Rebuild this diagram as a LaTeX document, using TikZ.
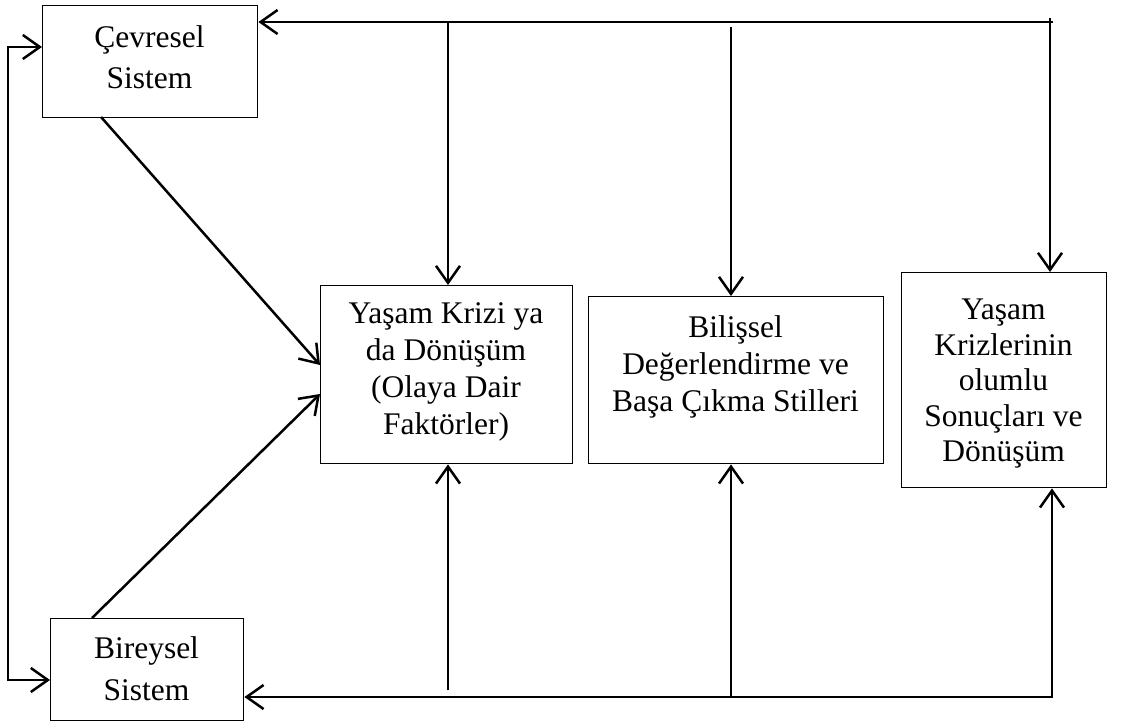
\documentclass[tikz,border=0pt]{standalone}
\usepackage{fontspec}
\setmainfont{Liberation Serif}
\usetikzlibrary{arrows.meta}
\begin{document}
\begin{tikzpicture}[x=1pt,y=-1pt,
  >={Straight Barb[length=17pt,width=24pt]},
  box/.style={draw,line width=1.4pt,inner sep=0pt,anchor=north west},
  txt/.style={inner sep=0pt,anchor=north,align=center},
  fs/.style={font=\fontsize{31.5}{#1}\selectfont},
  conn/.style={line width=2.5pt}]
\useasboundingbox (0,0) rectangle (1137,722);

% boxes
\node[box,minimum width=215pt,minimum height=112pt] (cev) at (42,5) {};
\node[box,minimum width=193pt,minimum height=102pt] (bir) at (50,618) {};
\node[box,minimum width=252pt,minimum height=178pt] (kriz) at (320,285) {};
\node[box,minimum width=295pt,minimum height=167pt] (bil) at (588,296) {};
\node[box,minimum width=205pt,minimum height=215pt] (res) at (901,272) {};

% box texts
\node[txt,fs=40.7] (cevT) at (149.5,25.5) {Çevresel\\Sistem};
\node[txt,fs=42] (birT) at (146.5,636.5) {Bireysel\\Sistem};
\node[txt,fs=37] (krizT) at (446,302) {Yaşam Krizi ya\\da Dönüşüm\\(Olaya Dair\\Faktörler)};
\node[txt,fs=37] (bilT) at (735.5,315.5) {Bilişsel\\Değerlendirme ve\\Başa Çıkma Stilleri};
\node[txt,fs=35.5] (resT) at (1003.5,299) {Yaşam\\Krizlerinin\\olumlu\\Sonuçları ve\\Dönüşüm};

% anchor points of the connectors
\coordinate (tr) at (1053,22);
\coordinate (t1) at (448,22);
\coordinate (t2) at (731,27);
\coordinate (t3) at (1050,18);
\coordinate (l1) at (8,47);
\coordinate (l2) at (8,680);
\coordinate (br) at (1052,697);
\coordinate (b1) at (448,690);
\coordinate (b2) at (731,697);
\coordinate (d1) at (101,117);
\coordinate (d2) at (92,618);
\coordinate (h1) at (0,365);
\coordinate (h2) at (0,394);

% top feedback line
\draw[conn,->] (tr) -- (tr -| cev.east);
\draw[conn,->] (t1) -- (t1 |- kriz.north);
\draw[conn,->] (t2) -- (t2 |- bil.north);
\draw[conn,->] (t3) -- (t3 |- res.north);

% left loop between the two systems
\draw[conn,<->] (l1 -| cev.west) -- (l1) -- (l2) -- (l2 -| bir.west);

% bottom feedback line
\draw[conn,<->] (br -| bir.east) -- (br) -- (br |- res.south);
\draw[conn,->] (b1) -- (b1 |- kriz.south);
\draw[conn,->] (b2) -- (b2 |- bil.south);

% systems into the crisis box
\draw[conn,->] (d1) -- (kriz.west |- h1);
\draw[conn,->] (d2) -- (kriz.west |- h2);
\end{tikzpicture}
\end{document}
